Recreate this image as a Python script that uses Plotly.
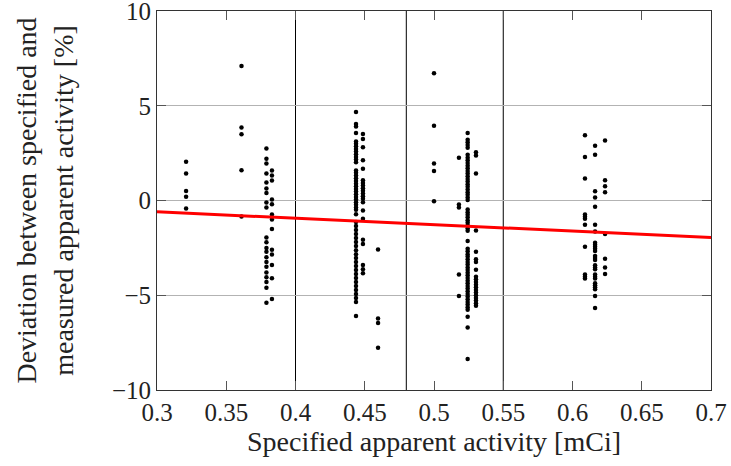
import plotly.graph_objects as go

# ---- data ----
x_0321 = [0.321] * 5
y_0321 = [2.05, 1.42, 0.5, 0.2, -0.42]

x_0361 = [0.361] * 5
y_0361 = [7.1, 3.85, 3.5, 1.6, -0.85]

x_0379 = [0.379] * 21
y_0379 = [2.74, 2.2, 1.95, 1.42, 0.95, 0.63, -0.1, -0.37, -1.95, -2.2, -2.5,
          -2.7, -3.0, -3.25, -3.5, -3.8, -4.05, -4.3, -4.6, -5.4, 0.4]

x_0383 = [0.383] * 13
y_0383 = [1.58, 1.32, 1.05, 0.05, -0.2, -0.74, -1.0, -1.5, -2.6, -2.85, -3.4,
          -4.1, -5.2]

y_0444 = [4.67, 4.04, 3.91, 3.56, 3.12, 3.0, 2.86, 2.72, 2.58, 2.44, 2.3, 2.16,
          2.02, 1.58, 1.46, 1.32, 1.17, 1.03, 0.89, 0.75, 0.61, 0.47, 0.33,
          0.19, 0.05, -0.09, -0.23, -0.37, -0.49, -0.72, -1.14, -1.35, -1.56,
          -1.77, -1.98, -2.19, -2.4, -2.62, -2.83, -3.04, -3.25, -3.46, -3.67,
          -3.88, -4.09, -4.3, -4.51, -4.72, -4.93, -5.14, -5.35, -6.09]
x_0444 = [0.4437] * len(y_0444)

y_0449 = [3.51, 3.25, 2.81, 2.12, 1.68, 1.07, 0.93, 0.79, 0.65, 0.51, 0.37,
          0.23, 0.09, -0.09, -0.53, -0.96, -2.07, -2.3, -3.4, -3.63, -3.84]
x_0449 = [0.4487] * len(y_0449)

x_0460 = [0.4596] * 4
y_0460 = [-2.58, -6.23, -6.47, -7.77]

x_0500 = [0.5] * 5
y_0500 = [6.72, 3.95, 1.95, 1.56, -0.04]

x_0518 = [0.518] * 5
y_0518 = [2.25, -0.21, -0.37, -3.9, -5.04]

y_0524 = [3.56, 3.21, 3.07, 2.93, 2.79, 2.41, 2.26, 2.12, 1.98, 1.84, 1.7,
          1.56, 1.42, 1.28, 1.14, 1.0, 0.86, 0.72, 0.58, 0.44, 0.3, 0.16, 0.02,
          -0.47, -0.62, -0.75, -0.89, -1.04, -1.17, -1.32, -1.46, -1.6, -2.14,
          -2.54, -2.68, -2.83, -2.96, -3.1, -3.25, -3.38, -3.53, -3.67, -3.81,
          -3.95, -4.09, -4.23, -4.37, -4.51, -4.65, -4.79, -4.93, -5.07, -5.21,
          -5.35, -5.49, -5.63, -5.77, -6.14, -6.7, -8.37]
x_0524 = [0.5243] * len(y_0524)

y_0530 = [2.54, 2.37, 1.42, -1.58, -2.7, -3.1, -3.25, -3.65, -4.02, -4.16,
          -4.3, -4.44, -4.58, -4.72, -4.86, -5.0, -5.14, -5.28, -5.42, -5.56]
x_0530 = [0.5303] * len(y_0530)

y_0609 = [3.44, 2.3, 1.16, -0.74, -0.86, -0.96, -1.28, -2.44, -3.91, -4.02,
          -4.12]
x_0609 = [0.609] * len(y_0609)

y_0616 = [2.89, 2.42, 0.49, 0.16, -0.33, -1.28, -1.63, -2.23, -2.33, -2.44,
          -2.54, -2.67, -2.93, -3.04, -3.14, -3.42, -3.53, -3.63, -3.91, -4.02,
          -4.12, -4.37, -4.47, -4.58, -4.68, -5.04, -5.67]
x_0616 = [0.6163] * len(y_0616)

y_0624 = [3.16, 1.07, 0.75, 0.44, -1.77, -3.07, -3.54, -3.88]
x_0624 = [0.6235] * len(y_0624)

fit_x = [0.3, 0.7]
fit_y = [-0.6, -1.95]

divider_x = [0.4, 0.48, 0.55]

x_ticks = [0.3, 0.35, 0.4, 0.45, 0.5, 0.55, 0.6, 0.65, 0.7]
x_tick_labels = ["0.3", "0.35", "0.4", "0.45", "0.5", "0.55", "0.6", "0.65", "0.7"]
y_ticks = [-10, -5, 0, 5, 10]

# ---- assemble ----
xs_all = (x_0321 + x_0361 + x_0379 + x_0383 + x_0444 + x_0449 + x_0460 +
          x_0500 + x_0518 + x_0524 + x_0530 + x_0609 + x_0616 + x_0624)
ys_all = (y_0321 + y_0361 + y_0379 + y_0383 + y_0444 + y_0449 + y_0460 +
          y_0500 + y_0518 + y_0524 + y_0530 + y_0609 + y_0616 + y_0624)

FONT = "Liberation Serif"

fig = go.Figure()
fig.add_trace(go.Scatter(
    x=xs_all, y=ys_all, mode="markers",
    marker=dict(color="black", size=4.5),
    showlegend=False, hoverinfo="x+y"))
fig.add_trace(go.Scatter(
    x=fit_x, y=fit_y, mode="lines",
    line=dict(color="#ff0000", width=3),
    showlegend=False))

for xv in divider_x:
    fig.add_shape(type="line", xref="x", yref="paper", x0=xv, x1=xv, y0=0, y1=1,
                  line=dict(color="black", width=1), layer="below")

fig.update_layout(
    width=731, height=466,
    margin=dict(l=157, r=20, t=11, b=76, autoexpand=False),
    plot_bgcolor="white", paper_bgcolor="white",
    font=dict(family=FONT, size=25, color="#222222"),
    xaxis=dict(
        range=[0.3, 0.7], tickvals=x_ticks, ticktext=x_tick_labels,
        showgrid=False, zeroline=False,
        showline=True, linecolor="#333333", linewidth=1, mirror="ticks",
        ticks="inside", ticklen=9, tickcolor="#555555",
        tickfont=dict(size=25), ticklabeloverflow="allow",
        title=dict(text="Specified apparent activity [mCi]", standoff=5,
                   font=dict(size=28)),
    ),
    yaxis=dict(
        range=[-10, 10], tickvals=y_ticks,
        showgrid=True, gridcolor="#b3b3b3", gridwidth=1, zeroline=False,
        showline=True, linecolor="#333333", linewidth=1, mirror="ticks",
        ticks="inside", ticklen=9, tickcolor="#555555",
        tickfont=dict(size=25), ticklabeloverflow="allow",
        title=dict(text="Deviation between specified and<br>measured apparent activity [%]",
                   standoff=30, font=dict(size=28)),
    ),
)

fig.write_html(
    "out.html",
    config={"displayModeBar": False},
    post_script="document.body.style.margin='0';document.body.style.overflow='hidden';",
)
